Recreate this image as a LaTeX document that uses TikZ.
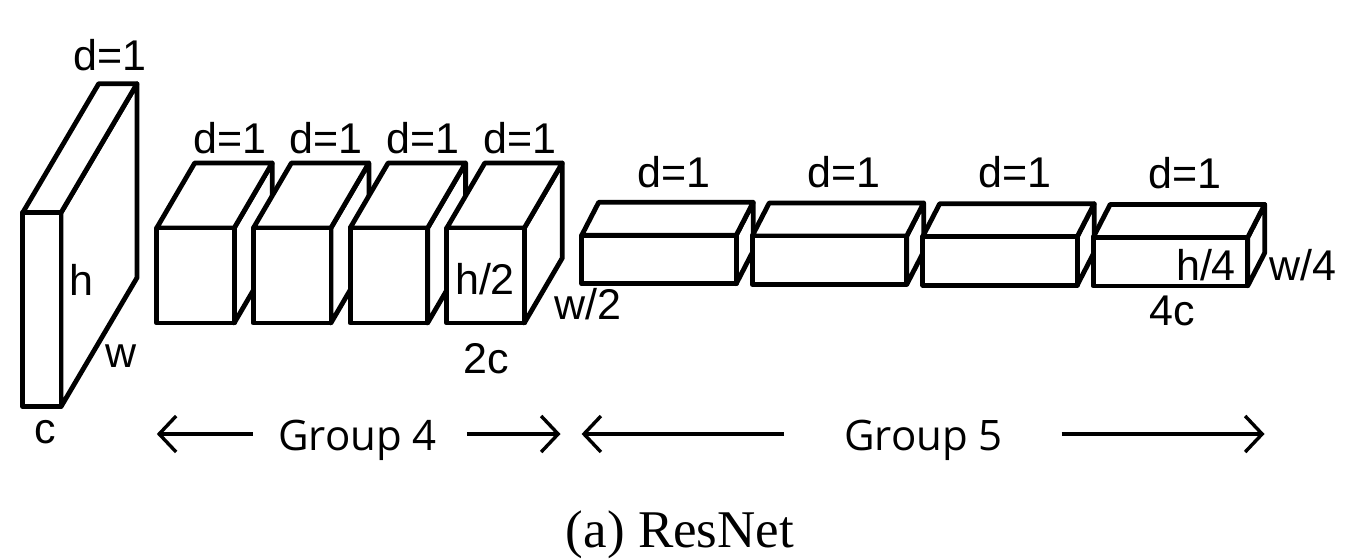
\documentclass[tikz,border=0pt]{standalone}
\usepackage{fontspec}
\setmainfont{Liberation Sans}
\newfontfamily\grpfont{Open Sans}
\newfontfamily\capfont{Liberation Serif}
\usetikzlibrary{arrows.meta}
% x y w h dx rise
\newcommand{\drawcuboid}[6]{%
  \draw[boxline] (#1+#3,#2) -- (#1+#3+#5,#2-#6) -- (#1+#3+#5,#2+#4-#6) -- (#1+#3,#2+#4) -- cycle;
  \draw[boxline] (#1,#2) -- (#1+#5,#2-#6) -- (#1+#3+#5,#2-#6) -- (#1+#3,#2) -- cycle;
  \draw[boxline] (#1,#2) rectangle (#1+#3,#2+#4);
}
\tikzset{
  boxline/.style={line width=4.8pt, line join=round, fill=white, draw=black},
  lab/.style={anchor=base, inner sep=0pt, font=\fontsize{43}{50}\selectfont},
  grp/.style={anchor=base, inner sep=0pt, font=\grpfont\fontsize{42}{50}\selectfont},
  capt/.style={anchor=base, inner sep=0pt, font=\capfont\fontsize{53}{60}\selectfont},
  grparrow/.style={line width=3.4pt, -{Straight Barb[length=17pt,width=36pt,line width=3.4pt]}}
}
\begin{document}
\begin{tikzpicture}[x=1pt,y=-1pt]
\useasboundingbox (0,0) rectangle (1346,558);
% input slab
\drawcuboid{22.7}{212.7}{38.3}{194}{76}{129}
\node[lab] (slabd) at (110,70) {d=1};
\node[lab] (slabh) at (81,295) {h};
\node[lab] (slabw) at (121,367) {w};
\node[lab] (slabc) at (45,443) {c};
% group 4 cubes
\foreach \i in {0,...,3}{
  \pgfmathsetmacro\xx{156.7+96.7*\i}
  \drawcuboid{\xx}{228}{77.5}{95}{38}{65}
  \pgfmathsetmacro\lx{\xx+73}
  \node[lab] (gfd\i) at (\lx,153) {d=1};
}
\node[lab] (h2) at (485,294) {h/2};
\node[lab] (w2) at (588,319) {w/2};
\node[lab] (c2) at (486,373) {2c};
% group 5 boxes
\foreach \i in {0,...,3}{
  \pgfmathsetmacro\xx{581.7+170.5*\i}
  \pgfmathsetmacro\yy{235.3+0.7*\i}
  \drawcuboid{\xx}{\yy}{154.5}{48.5}{17}{33}
  \pgfmathsetmacro\lx{\xx+92}
  \pgfmathsetmacro\ly{187+0.4*\i}
  \node[lab] (gvd\i) at (\lx,\ly) {d=1};
}
\node[lab] (h4) at (1206,280) {h/4};
\node[lab] (w4) at (1303,280) {w/4};
\node[lab] (c4) at (1172,325) {4c};
% group labels and arrows
\node[grp] (g4) at (357.5,450) {Group 4};
\node[grp] (g5) at (923.5,450) {Group 5};
\coordinate (a1s) at (252.5,434);
\coordinate (a1e) at (156.8,434);
\coordinate (a2s) at (466.8,434);
\coordinate (a2e) at (560.5,434);
\coordinate (a3s) at (784,434);
\coordinate (a3e) at (581.6,434);
\coordinate (a4s) at (1061.6,434);
\coordinate (a4e) at (1264.5,434);
\draw[grparrow] (a1s) -- (a1e);
\draw[grparrow] (a2s) -- (a2e);
\draw[grparrow] (a3s) -- (a3e);
\draw[grparrow] (a4s) -- (a4e);
% caption
\node[capt] (cap) at (680,547) {(a) ResNet};
\end{tikzpicture}
\end{document}
